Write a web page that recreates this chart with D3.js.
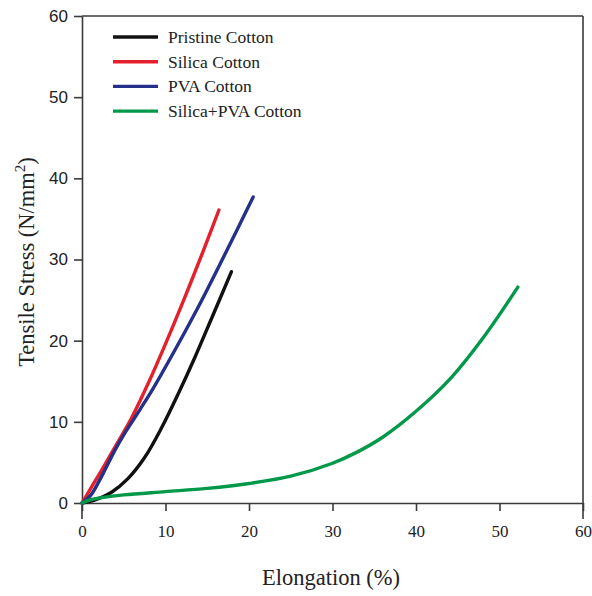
<!DOCTYPE html>
<html>
<head>
<meta charset="utf-8">
<script src="https://cdn.jsdelivr.net/npm/d3@7/dist/d3.min.js"></script>
<style>
  html, body { margin: 0; padding: 0; background: #fff; }
  svg { display: block; }
</style>
</head>
<body>
<svg id="chart" width="592" height="596"></svg>
<script>
// Tensile stress vs elongation for treated cotton fabrics
const xTicks = [0, 10, 20, 30, 40, 50, 60];
const yTicks = [0, 10, 20, 30, 40, 50, 60];

const seriesNames = ["Pristine Cotton", "Silica Cotton", "PVA Cotton", "Silica+PVA Cotton"];
const seriesColors = ["#111111", "#e3202b", "#24308a", "#00994a"];

// [elongation %, stress N/mm²]
const pristine = [[0,0],[1.5,0.35],[3.5,1.3],[5.5,3.0],[7.5,5.6],[9.5,9.2],[11.5,13.4],[13.5,17.9],[15.5,22.7],[17.9,28.5]];
const silica = [[0,0],[1.1,1.9],[2.5,4.3],[3.9,6.8],[5.9,10.4],[8,14.9],[10,19.6],[12.3,25.3],[14.5,31.0],[16.4,36.1]];
const pva = [[0,0],[1,0.9],[2,2.6],[3,4.6],[4,6.6],[5,8.4],[6,10.0],[7,11.6],[8.4,13.9],[11,18.6],[14,24.3],[17,30.4],[20.5,37.7]];
const silicaPva = [[0,0],[1,0.4],[2,0.6],[5,1.0],[10,1.4],[15,1.8],[20,2.4],[25,3.3],[30,4.9],[33,6.3],[36,8.1],[40,11.3],[44,15.2],[48,20.3],[52.2,26.6]];

const seriesData = [pristine, silica, pva, silicaPva];

const svg = d3.select("#chart");
const mLeft = 82, mRight = 583, mTop = 16, mBottom = 503;

const x = d3.scaleLinear().domain([0, 60]).range([mLeft, mRight]);
const y = d3.scaleLinear().domain([0, 60]).range([mBottom, mTop]);

const axisColor = "#3a3a3a";
const serif = "'Liberation Serif', 'Times New Roman', serif";

// x axis ticks and labels (serif)
const xAxis = svg.append("g")
  .attr("transform", `translate(0,${mBottom})`)
  .call(d3.axisBottom(x).tickValues(xTicks).tickSize(8).tickSizeOuter(0).tickPadding(14));
xAxis.select(".domain").attr("stroke", axisColor).attr("stroke-width", 1.6);
xAxis.selectAll(".tick line").attr("stroke", axisColor).attr("stroke-width", 1.6);
xAxis.selectAll(".tick text")
  .attr("font-family", serif)
  .attr("font-size", 17).attr("fill", "#222");

// y axis ticks and labels (sans)
const yAxis = svg.append("g")
  .attr("transform", `translate(${mLeft},0)`)
  .call(d3.axisLeft(y).tickValues(yTicks).tickSize(8).tickSizeOuter(0).tickPadding(6));
yAxis.select(".domain").attr("stroke", axisColor).attr("stroke-width", 1.6);
yAxis.selectAll(".tick line").attr("stroke", axisColor).attr("stroke-width", 1.6);
yAxis.selectAll(".tick text")
  .attr("font-family", "'Liberation Sans', Arial, sans-serif")
  .attr("font-size", 17).attr("fill", "#222");

// frame: top and right edges, side edges run past the x axis
svg.append("line").attr("x1", mLeft).attr("x2", mRight).attr("y1", mTop).attr("y2", mTop)
  .attr("stroke", axisColor).attr("stroke-width", 1.6);
svg.append("line").attr("x1", mRight).attr("x2", mRight).attr("y1", mTop).attr("y2", mBottom + 16)
  .attr("stroke", axisColor).attr("stroke-width", 1.6);
svg.append("line").attr("x1", mLeft).attr("x2", mLeft).attr("y1", mBottom).attr("y2", mBottom + 16)
  .attr("stroke", axisColor).attr("stroke-width", 1.6);

// curves
const line = d3.line()
  .x(d => x(d[0]))
  .y(d => y(d[1]))
  .curve(d3.curveCatmullRom.alpha(0.5));

svg.append("g").selectAll("path")
  .data(seriesData)
  .join("path")
  .attr("d", line)
  .attr("fill", "none")
  .attr("stroke", (d, i) => seriesColors[i])
  .attr("stroke-width", 3.4)
  .attr("stroke-linecap", "round")
  .attr("stroke-linejoin", "round");

// legend
const legend = svg.append("g");
seriesNames.forEach((name, i) => {
  const ly = 37 + i * 24.7;
  legend.append("line")
    .attr("x1", 113).attr("x2", 158).attr("y1", ly).attr("y2", ly)
    .attr("stroke", seriesColors[i]).attr("stroke-width", 3.4);
  legend.append("text")
    .attr("x", 168).attr("y", ly + 6)
    .attr("font-family", serif)
    .attr("font-size", 17.5).attr("fill", "#222")
    .text(name);
});

// axis titles
svg.append("text")
  .attr("x", 331).attr("y", 585)
  .attr("text-anchor", "middle")
  .attr("font-family", serif)
  .attr("font-size", 22.5).attr("fill", "#222")
  .text("Elongation (%)");

const yTitle = svg.append("text")
  .attr("transform", "translate(34,262) rotate(-90)")
  .attr("text-anchor", "middle")
  .attr("font-family", serif)
  .attr("font-size", 22.5).attr("fill", "#222");
yTitle.append("tspan").text("Tensile Stress (N/mm");
yTitle.append("tspan").attr("font-size", 15).attr("dy", -9).text("2");
yTitle.append("tspan").attr("dy", 9).text(")");
</script>
</body>
</html>
